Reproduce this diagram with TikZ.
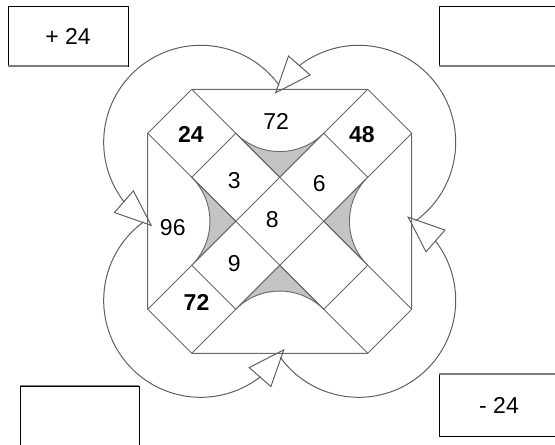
\documentclass[tikz,border=0pt]{standalone}
\usepackage{fontspec}
\setmainfont{Liberation Sans}
\usetikzlibrary{arrows.meta,bending}
\definecolor{linegray}{RGB}{105,105,105}
\definecolor{arcgray}{RGB}{95,95,95}
\definecolor{shade}{RGB}{196,196,196}
\definecolor{shadowgray}{RGB}{125,125,125}
\begin{document}
\begin{tikzpicture}[x=1pt,y=1pt,
  font=\fontsize{23}{27}\selectfont,
  box/.style={draw=black, line width=0.9pt, minimum width=120pt, minimum height=60pt, inner sep=0pt},
  shadowline/.style={draw=shadowgray, line width=2pt},
  grid/.style={draw=linegray, line width=0.9pt},
  loop/.style={draw=arcgray, line width=1pt, -{Triangle[open, length=38pt, width=30pt, flex]}},
  lab/.style={inner sep=0pt},
  blab/.style={inner sep=0pt, font=\fontsize{23}{27}\selectfont\bfseries}]
\useasboundingbox (-279.7,221.3) rectangle (275.3,-223.7);
\clip (-279.7,221.3) rectangle (275.3,-223.7);

% corner boxes
\node[box] (b1) at (-211.7,185.3) {+ 24};
\node[box] (b2) at (219.3,185.3) {};
\node[box, minimum height=62pt] (b3) at (219.3,-183.7) {- 24};
\node[box, minimum width=119pt] (b4) at (-200.2,-194.7) {};
\draw[shadowline] (b1.south west) -- (b1.south east);
\draw[shadowline] (b2.south west) -- (b2.south east);
\draw[shadowline] (b3.north west) -- (b3.north east);
\draw[shadowline, line width=1.2pt] (b4.north west) -- (b4.north east);

% octagon puzzle
\begin{scope}[x=44pt,y=44pt]
  \filldraw[fill=shade, draw=linegray, line width=0.9pt] (-1,2) -- (0,1) -- (1,2) arc[start angle=-45, end angle=-135, radius=1.41421] -- cycle;
  \filldraw[fill=shade, draw=linegray, line width=0.9pt] (-2,1) -- (-1,0) -- (-2,-1) arc[start angle=-45, end angle=45, radius=1.41421] -- cycle;
  \filldraw[fill=shade, draw=linegray, line width=0.9pt] (2,1) -- (1,0) -- (2,-1) arc[start angle=225, end angle=135, radius=1.41421] -- cycle;
  \filldraw[fill=shade, draw=linegray, line width=0.9pt] (-1,-2) -- (0,-1) -- (1,-2) arc[start angle=45, end angle=135, radius=1.41421] -- cycle;
  \draw[grid] (-2,3) -- (2,3) -- (3,2) -- (3,-2) -- (2,-3) -- (-2,-3) -- (-3,-2) -- (-3,2) -- cycle;
  \draw[grid] (-2,3) -- (3,-2);
  \draw[grid] (-3,2) -- (2,-3);
  \draw[grid] (2,3) -- (-3,-2);
  \draw[grid] (3,2) -- (-2,-3);
  \draw[grid] (-1,2) -- (-2,1);
  \draw[grid] (1,2) -- (2,1);
  \draw[grid] (-2,-1) -- (-1,-2);
  \draw[grid] (2,-1) -- (1,-2);
  \node[blab] (n24) at (-2.02,1.97) {24};
  \node[lab] (n72a) at (-0.08,2.28) {72};
  \node[blab] (n48) at (1.87,1.98) {48};
  \node[lab] (n3) at (-1.03,0.92) {3};
  \node[lab] (n6) at (0.9,0.86) {6};
  \node[lab] (n96) at (-2.43,-0.15) {96};
  \node[lab] (n8) at (-0.17,0.03) {8};
  \node[lab] (n9) at (-1.03,-0.95) {9};
  \node[blab] (n72b) at (-1.89,-1.85) {72};
\end{scope}

% cycle of arcs
\coordinate (c1) at (-79,79);
\coordinate (c2) at (-79,-79);
\coordinate (c3) at (79,-79);
\coordinate (c4) at (79,79);
\draw[loop] (c1) ++(36:97) arc[start angle=36, end angle=240, radius=97];
\draw[loop] (c2) ++(126:97) arc[start angle=126, end angle=330, radius=97];
\draw[loop] (c3) ++(216:97) arc[start angle=216, end angle=420, radius=97];
\draw[loop] (c4) ++(306:97) arc[start angle=306, end angle=510, radius=97];
\end{tikzpicture}
\end{document}
